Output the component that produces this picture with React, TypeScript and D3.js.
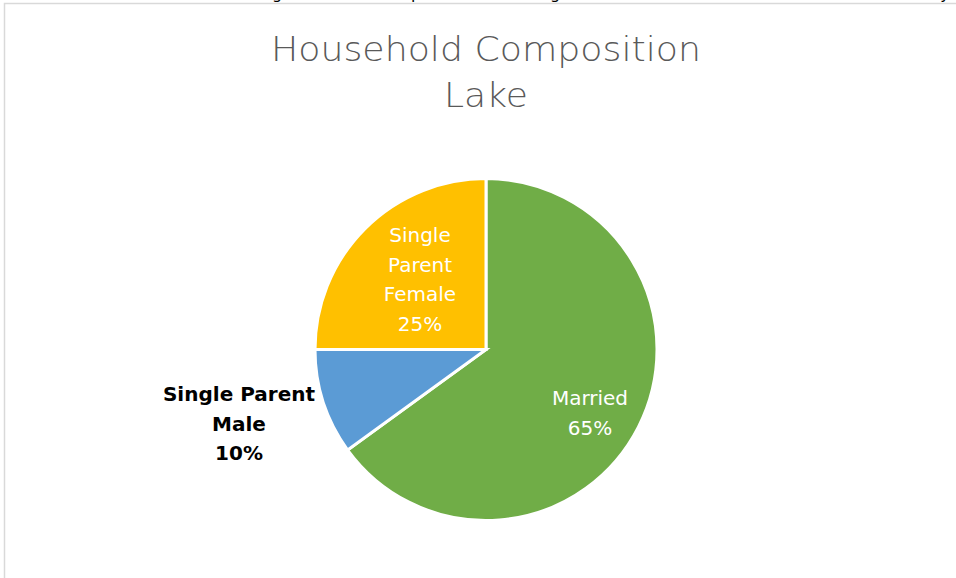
import React from "react";
import * as d3 from "d3";

const categories = ["Married", "Single Parent Male", "Single Parent Female"];
const values = [65, 10, 25];
const colors = ["#70AD47", "#5B9BD5", "#FFC000"];
const labelLines = [["Married", "65%"], ["Single Parent", "Male", "10%"], ["Single", "Parent", "Female", "25%"]];
const titleLines = ["Household Composition", "Lake"];

const W = 956, H = 578;
const cx = 486, cy = 349.5, R = 171;
const FONT = "'DejaVu Sans', sans-serif";
const TFONT = "'DejaVu Sans', sans-serif";

export default function App() {
  const pie = d3.pie<number>().sort(null).value((d) => d);
  const arcs = pie(values);
  const arc = d3.arc<d3.PieArcDatum<number>>().innerRadius(0).outerRadius(R);
  const labelPos = [
    { x: 590, y: 398, fill: "#ffffff" },
    { x: 239, y: 394, fill: "#000000" },
    { x: 420, y: 235, fill: "#ffffff" },
  ];
  const fragments = [{ ch: "g", x: 277 }, { ch: "p", x: 416 }, { ch: "g", x: 555 }, { ch: "y", x: 945 }];
  return (
    <div style={{ position: "absolute", left: 0, top: 0 }}>
      <svg width={W} height={H} style={{ display: "block", background: "#fff" }}>
        {fragments.map((f, i) => (
          <text key={i} x={f.x} y={-1} fontFamily={FONT} fontSize={16} textAnchor="middle" fill="#000">{f.ch}</text>
        ))}
        <path d={`M4.5,${H} L4.5,3.5 L${W},3.5`} fill="none" stroke="#d9d9d9" strokeWidth={1.5} />
        <text x={486} y={61} fontFamily={TFONT} fontWeight={200} fontSize={34} textAnchor="middle" fill="#595959" textLength={430} lengthAdjust="spacingAndGlyphs">{titleLines[0]}</text>
        <text x={486} y={107} fontFamily={TFONT} fontWeight={200} fontSize={34} textAnchor="middle" fill="#595959" textLength={84} lengthAdjust="spacingAndGlyphs">{titleLines[1]}</text>
        <g transform={`translate(${cx},${cy})`}>
          {arcs.map((a, i) => (
            <path key={categories[i]} d={arc(a) || ""} fill={colors[i]} stroke="#fff" strokeWidth={3} strokeLinejoin="miter" />
          ))}
        </g>
        {labelLines.map((lines, i) => (
          <text key={i} fontFamily={FONT} fontSize={20} fontWeight={i === 1 ? 600 : 400} textAnchor="middle" fill={labelPos[i].fill}>
            {lines.map((l, j) => (
              <tspan key={j} x={labelPos[i].x} y={labelPos[i].y + j * 29.5} dy="0.35em">{l}</tspan>
            ))}
          </text>
        ))}
      </svg>
    </div>
  );
}
